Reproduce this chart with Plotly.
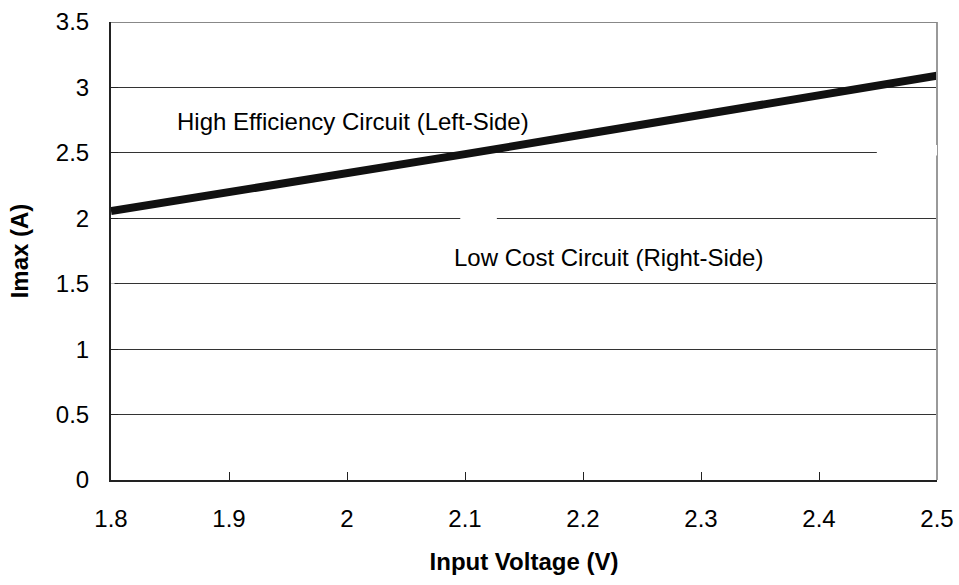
import plotly.graph_objects as go

voltage = [1.8, 1.9, 2.0, 2.1, 2.2, 2.3, 2.4, 2.5]
imax = [2.055, 2.195, 2.34, 2.49, 2.64, 2.79, 2.94, 3.09]

x_ticks = [1.8, 1.9, 2.0, 2.1, 2.2, 2.3, 2.4, 2.5]
x_labels = ["1.8", "1.9", "2", "2.1", "2.2", "2.3", "2.4", "2.5"]
y_ticks = [0, 0.5, 1, 1.5, 2, 2.5, 3, 3.5]
y_labels = ["0", "0.5", "1", "1.5", "2", "2.5", "3", "3.5"]

FONT = "Liberation Sans, Arial, sans-serif"

fig = go.Figure()
fig.add_trace(go.Scatter(x=voltage, y=imax, mode="lines",
                         line=dict(color="#111111", width=8), showlegend=False))

fig.update_layout(
    width=959, height=585,
    margin=dict(l=111, r=22, t=22, b=105, autoexpand=False),
    paper_bgcolor="white", plot_bgcolor="white",
    font=dict(family=FONT, size=24, color="black"),
    xaxis=dict(range=[1.8, 2.5], tickvals=x_ticks, ticktext=x_labels,
               automargin=False, ticklabeloverflow="allow",
               showgrid=False, zeroline=False, showline=True,
               linecolor="#222222", linewidth=2, ticks="inside", ticklen=8,
               tickcolor="#222222", tickwidth=1, ticklabelstandoff=16,
               mirror=False, tickfont=dict(size=24),
               title=dict(text="<b>Input Voltage (V)</b>", standoff=22,
                          font=dict(size=24))),
    yaxis=dict(range=[0, 3.5], tickvals=y_ticks, ticktext=y_labels,
               automargin=False, ticklabeloverflow="allow",
               showgrid=True, gridcolor="#333333", gridwidth=1,
               zeroline=False, showline=True, linecolor="#222222", linewidth=2,
               ticks="inside", ticklen=7, tickcolor="#222222", tickwidth=1,
               ticklabelstandoff=15, tickfont=dict(size=24),
               title=dict(text="<b>Imax (A)</b>", standoff=20,
                          font=dict(size=24))),
    shapes=[
        dict(type="line", xref="paper", yref="paper", x0=1, x1=1, y0=0, y1=1,
             line=dict(color="#999999", width=2)),
        dict(type="line", xref="paper", yref="y", x0=0, x1=1, y0=3.5, y1=3.5,
             line=dict(color="#888888", width=2)),
        dict(type="rect", xref="x", yref="y", x0=2.096, x1=2.127, y0=1.985, y1=2.015,
             fillcolor="white", line=dict(width=0), layer="above"),
        dict(type="rect", xref="x", yref="y", x0=2.449, x1=2.506, y0=2.48, y1=2.56,
             fillcolor="white", line=dict(width=0), layer="above"),
        dict(type="rect", xref="x", yref="y", x0=1.797, x1=1.803, y0=1.50, y1=1.567,
             fillcolor="white", line=dict(width=0), layer="above"),
    ],
    annotations=[
        dict(text="High Efficiency Circuit (Left-Side)", x=1.854, y=2.74,
             xref="x", yref="y", xanchor="left", yanchor="middle",
             showarrow=False, font=dict(size=24)),
        dict(text="Low Cost Circuit (Right-Side)", x=2.089, y=1.70,
             xref="x", yref="y", xanchor="left", yanchor="middle",
             showarrow=False, font=dict(size=24)),
    ],
)

fig.write_html(
    "out.html",
    config={"displayModeBar": False},
    post_script="document.body.style.margin='0';document.body.style.overflow='hidden';",
)
